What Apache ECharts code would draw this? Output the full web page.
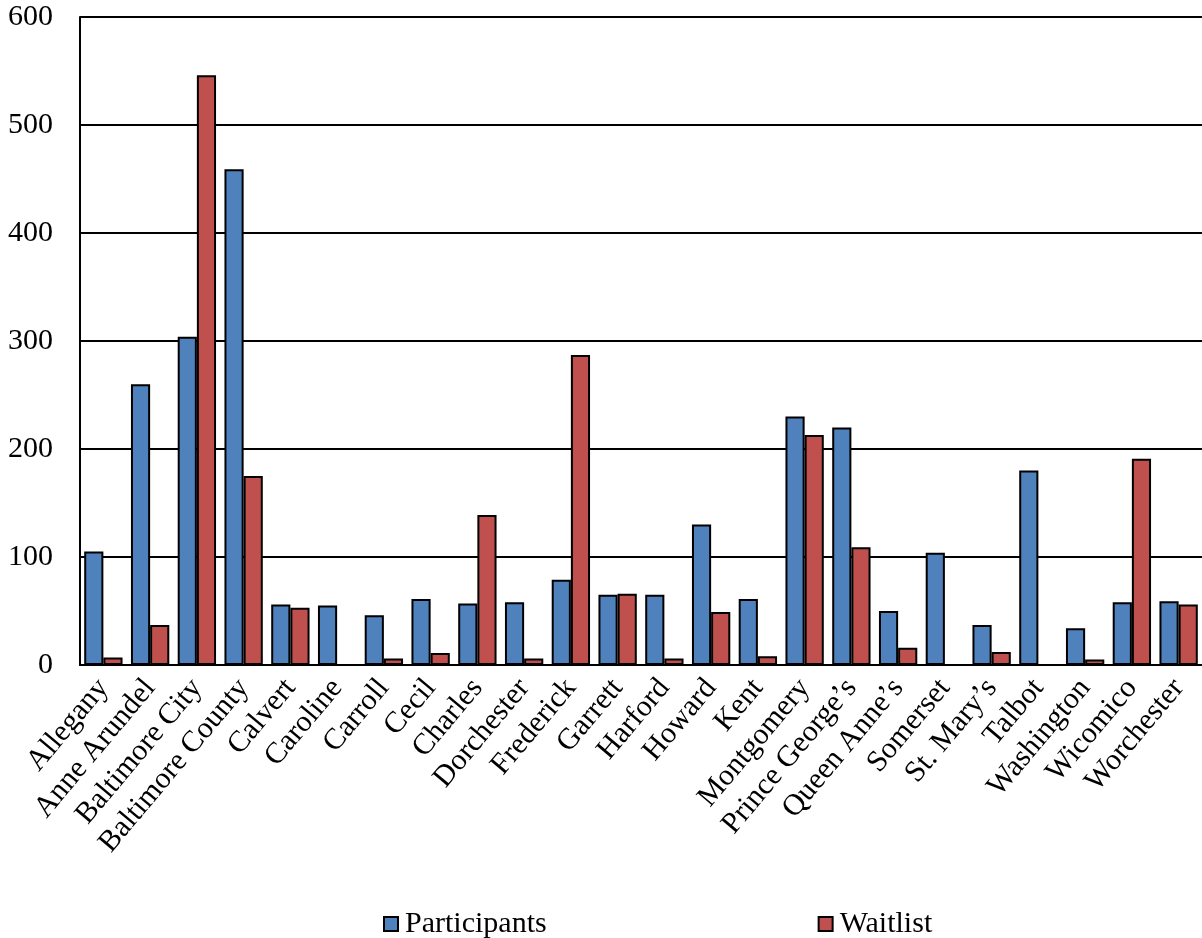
<!DOCTYPE html>
<html>
<head>
<meta charset="utf-8">
<script src="https://cdn.jsdelivr.net/npm/echarts@6/dist/echarts.min.js"></script>
<style>
  html, body { margin: 0; padding: 0; background: #fff; }
  #chart { width: 1202px; height: 938px; }
</style>
</head>
<body>
<div id="chart"></div>
<script>
// counties (x axis)
const counties = [
  'Allegany', 'Anne Arundel', 'Baltimore City', 'Baltimore County', 'Calvert',
  'Caroline', 'Carroll', 'Cecil', 'Charles', 'Dorchester', 'Frederick',
  'Garrett', 'Harford', 'Howard', 'Kent', 'Montgomery', 'Prince George\u2019s',
  'Queen Anne\u2019s', 'Somerset', 'St. Mary\u2019s', 'Talbot', 'Washington',
  'Wicomico', 'Worchester'
];
// values
const participants = [105, 260, 304, 459, 56, 55, 46, 61, 57, 58, 79, 65, 65, 130, 61, 230, 220, 50, 104, 37, 180, 34, 58, 59];
const waitlist = [7, 37, 546, 175, 53, 0, 6, 11, 139, 6, 287, 66, 6, 49, 8, 213, 109, 16, 0, 12, 0, 5, 191, 56];
const yTicks = { min: 0, max: 600, interval: 100 };

const font = '"Liberation Serif", "Times New Roman", serif';
const chart = echarts.init(document.getElementById('chart'));

chart.setOption({
  animation: false,
  backgroundColor: '#fff',
  textStyle: { fontFamily: font },
  grid: { left: 80, right: 0, top: 17, bottom: 273, containLabel: false },
  legend: {
    left: 378,
    top: 904,
    icon: 'rect',
    itemWidth: 14,
    itemHeight: 14,
    itemGap: 271,
    textStyle: { fontFamily: font, fontSize: 30, color: '#000', padding: [0, 0, 0, 2] },
    data: ['Participants', 'Waitlist']
  },
  xAxis: {
    type: 'category',
    data: counties,
    axisLine: { lineStyle: { color: '#000', width: 2 } },
    axisTick: { show: false },
    axisLabel: {
      interval: 0,
      rotate: 50,
      margin: 18,
      fontFamily: font,
      fontSize: 30,
      color: '#000'
    }
  },
  yAxis: {
    type: 'value',
    min: yTicks.min,
    max: yTicks.max,
    interval: yTicks.interval,
    axisLine: { show: true, lineStyle: { color: '#000', width: 2 } },
    axisTick: { show: false },
    axisLabel: { margin: 27, fontFamily: font, fontSize: 30, color: '#000' },
    splitLine: { lineStyle: { color: '#000', width: 2 } }
  },
  series: [
    {
      name: 'Participants',
      type: 'bar',
      data: participants,
      barGap: '0%',
      barCategoryGap: '18%',
      itemStyle: { color: '#4F81BD', borderColor: '#000', borderWidth: 2 }
    },
    {
      name: 'Waitlist',
      type: 'bar',
      data: waitlist,
      barGap: '0%',
      barCategoryGap: '18%',
      itemStyle: { color: '#C0504D', borderColor: '#000', borderWidth: 2 }
    }
  ]
});
</script>
</body>
</html>
